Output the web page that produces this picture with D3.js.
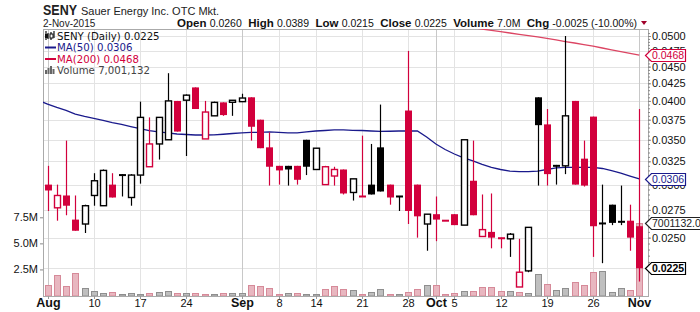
<!DOCTYPE html>
<html>
<head>
<meta charset="utf-8">
<script src="https://cdn.jsdelivr.net/npm/d3@7"></script>
<style>
  body { margin: 0; background: #fff; }
  svg { display: block; font-family: "Liberation Sans", Arial, sans-serif; }
</style>
</head>
<body>
<svg id="chart" width="700" height="312"></svg>
<script>
// trading days shown on the chart
var dates = [
  "2015-08-03","2015-08-04","2015-08-05","2015-08-06","2015-08-07","2015-08-10","2015-08-11","2015-08-12","2015-08-13","2015-08-14",
  "2015-08-17","2015-08-18","2015-08-19","2015-08-20","2015-08-21","2015-08-24","2015-08-25","2015-08-26","2015-08-27","2015-08-28",
  "2015-08-31","2015-09-01","2015-09-02","2015-09-03","2015-09-04","2015-09-08","2015-09-09","2015-09-10","2015-09-11","2015-09-14",
  "2015-09-15","2015-09-16","2015-09-17","2015-09-18","2015-09-21","2015-09-22","2015-09-23","2015-09-24","2015-09-25","2015-09-28",
  "2015-09-29","2015-09-30","2015-10-01","2015-10-02","2015-10-05","2015-10-06","2015-10-07","2015-10-08","2015-10-09","2015-10-12",
  "2015-10-13","2015-10-14","2015-10-15","2015-10-16","2015-10-19","2015-10-20","2015-10-21","2015-10-22","2015-10-23","2015-10-26",
  "2015-10-27","2015-10-28","2015-10-29","2015-10-30","2015-11-02"];

var open = [0.0300,0.0277,0.0289,0.0266,0.0262,0.0289,0.0279,0.0300,0.0311,0.0287,
  0.0310,0.0319,0.0345,0.0350,0.0400,0.0401,0.0419,0.0351,0.0380,0.0398,
  0.0399,0.0399,0.0405,0.0375,0.0341,0.0320,0.0320,0.0320,0.0350,0.0316,
  0.0300,0.0309,0.0316,0.0292,0.0288,0.0300,0.0341,0.0300,0.0288,0.0387,
  0.0300,0.0262,0.0271,0.0265,0.0271,0.0261,0.0304,0.0251,0.0255,0.0250,
  0.0249,0.0211,0.0223,0.0405,0.0369,0.0320,0.0320,0.0400,0.0328,0.0379,
  0.0263,0.0280,0.0264,0.0265,0.0260];
var high = [0.0320,0.0300,0.0349,0.0289,0.0280,0.0312,0.0316,0.0312,0.0311,0.0311,
  0.0399,0.0378,0.0378,0.0440,0.0400,0.0409,0.0419,0.0400,0.0399,0.0398,
  0.0401,0.0410,0.0405,0.0375,0.0359,0.0320,0.0320,0.0320,0.0350,0.0340,
  0.0320,0.0319,0.0316,0.0306,0.0355,0.0345,0.0395,0.0300,0.0288,0.0475,
  0.0300,0.0271,0.0288,0.0265,0.0271,0.0350,0.0349,0.0290,0.0291,0.0250,
  0.0254,0.0249,0.0259,0.0405,0.0389,0.0321,0.0500,0.0400,0.0349,0.0379,
  0.0300,0.0280,0.0299,0.0280,0.0389];
var low = [0.0274,0.0265,0.0270,0.0256,0.0254,0.0279,0.0279,0.0287,0.0288,0.0279,
  0.0301,0.0319,0.0327,0.0350,0.0360,0.0331,0.0389,0.0351,0.0380,0.0380,
  0.0380,0.0399,0.0349,0.0340,0.0299,0.0300,0.0299,0.0300,0.0310,0.0316,
  0.0300,0.0299,0.0290,0.0284,0.0288,0.0290,0.0293,0.0280,0.0274,0.0262,
  0.0250,0.0239,0.0247,0.0265,0.0261,0.0261,0.0270,0.0251,0.0241,0.0241,
  0.0234,0.0211,0.0222,0.0299,0.0299,0.0300,0.0311,0.0300,0.0298,0.0234,
  0.0229,0.0261,0.0261,0.0239,0.0215];
var close = [0.0294,0.0289,0.0279,0.0256,0.0279,0.0304,0.0315,0.0287,0.0309,0.0310,
  0.0378,0.0345,0.0378,0.0400,0.0360,0.0408,0.0389,0.0385,0.0398,0.0381,
  0.0400,0.0404,0.0366,0.0340,0.0319,0.0315,0.0316,0.0305,0.0319,0.0340,
  0.0319,0.0316,0.0291,0.0306,0.0288,0.0290,0.0293,0.0287,0.0288,0.0274,
  0.0269,0.0271,0.0266,0.0265,0.0261,0.0350,0.0270,0.0257,0.0250,0.0249,
  0.0253,0.0222,0.0259,0.0368,0.0311,0.0320,0.0380,0.0300,0.0299,0.0260,
  0.0262,0.0263,0.0264,0.0250,0.0225];
var volume = [980000,1940000,880000,2160000,690000,430000,200000,330000,120000,200000,
  120000,200000,300000,400000,200000,200000,200000,120000,120000,200000,
  200000,200000,980000,880000,690000,100000,200000,200000,100000,100000,
  620000,880000,600000,500000,100000,300000,600000,100000,100000,300000,
  600000,980000,980000,100000,200000,400000,400000,790000,790000,400000,
  400000,300000,200000,2030000,1070000,500000,690000,1270000,980000,2220000,
  2320000,300000,690000,500000,7001132];

// moving averages: MA(50) starts on the day before the first candle,
// MA(200) only where it comes down into the chart
var maStart = "2015-07-31";
var ma50 = [0.04006,0.03957,0.03911,0.03871,0.03824,0.03792,0.03766,0.03740,0.03712,0.03689,0.03663,
  0.03638,0.03613,0.03595,0.03583,0.03570,0.03564,0.03558,0.03558,0.03560,0.03567,
  0.03576,0.03583,0.03589,0.03589,0.03595,0.03589,0.03583,0.03583,0.03595,0.03607,
  0.03613,0.03620,0.03620,0.03616,0.03613,0.03607,0.03603,0.03604,0.03607,0.03607,
  0.03607,0.03534,0.03449,0.03385,0.03333,0.03288,0.03254,0.03215,0.03182,0.03160,
  0.03143,0.03136,0.03136,0.03143,0.03160,0.03178,0.03184,0.03184,0.03184,0.03182,
  0.03171,0.03149,0.03122,0.03090,0.03060];
var ma200 = [0.05145,0.05122,0.05099,0.05076,0.05052,0.05029,0.05007,0.04985,0.04959,0.04932,
  0.04906,0.04881,0.04854,0.04829,0.04798,0.04768,0.04739,0.04710,0.04681];

var priceTicks = [0.0500,0.0475,0.0450,0.0425,0.0400,0.0375,0.0350,0.0325,0.0300,0.0275,0.0250,0.0225];
var volumeTicks = [2500000, 5000000, 7500000];
var tickDates = ["2015-08-03","2015-08-10","2015-08-17","2015-08-24","2015-09-01","2015-09-08","2015-09-14",
  "2015-09-21","2015-09-28","2015-10-01","2015-10-05","2015-10-12","2015-10-19","2015-10-26","2015-11-02"];
var tickLabels = ["Aug","10","17","24","Sep","8","14","21","28","Oct","5","12","19","26","Nov"];

// layout
var plot = {left: 43, right: 648, top: 29, bottom: 296};
var RED = "#d2003c", BLUE = "#1a1a8c", MA200C = "#dc4563";

var svg = d3.select("#chart");

var allDates = [maStart].concat(dates);
var x = d3.scalePoint()
  .domain(allDates)
  .range([38.3, 639.3]);
var y = d3.scaleLog()
  .domain([0.0500, 0.0225])
  .range([36, 268.3]);
var yv = d3.scaleLinear()
  .domain([0, 7500000])
  .range([295.5, 217.3]);

function cx(d) { return Math.round(x(d)); }

svg.append("defs").append("clipPath").attr("id", "clip")
  .append("rect")
  .attr("x", plot.left).attr("y", plot.top)
  .attr("width", plot.right - plot.left).attr("height", plot.bottom - plot.top);

// grid
var grid = svg.append("g");
grid.selectAll(".hg")
  .data(priceTicks)
  .enter().append("line")
  .attr("x1", plot.left).attr("x2", plot.right)
  .attr("y1", function(d) { return Math.round(y(d)) + 0.5; })
  .attr("y2", function(d) { return Math.round(y(d)) + 0.5; })
  .attr("stroke", "#e3e3e3");
grid.selectAll(".vg")
  .data(tickDates)
  .enter().append("line")
  .attr("x1", function(d) { return cx(d) + 0.5; })
  .attr("x2", function(d) { return cx(d) + 0.5; })
  .attr("y1", plot.top).attr("y2", plot.bottom)
  .attr("stroke", function(d, i) { return isNaN(+tickLabels[i]) ? "#c8c8c8" : "#e3e3e3"; });

// frame
svg.append("rect")
  .attr("x", plot.left + 0.5).attr("y", plot.top + 0.5)
  .attr("width", plot.right - plot.left).attr("height", plot.bottom - plot.top)
  .attr("fill", "none").attr("stroke", "#aaa");

var body = svg.append("g").attr("clip-path", "url(#clip)");

function isDown(i) {
  return i == 0 ? close[i] < open[i] : close[i] < close[i - 1];
}

// volume bars
body.selectAll(".vol")
  .data(dates)
  .enter().append("rect")
  .attr("x", function(d) { return cx(d) - 2.5; })
  .attr("width", 6)
  .attr("y", function(d, i) { return Math.round(yv(volume[i])) + 0.5; })
  .attr("height", function(d, i) { return Math.max(0, 296 - Math.round(yv(volume[i])) - 0.5); })
  .attr("fill", function(d, i) { return isDown(i) ? "#e8b7c0" : "#bfbfbf"; })
  .attr("stroke", function(d, i) { return isDown(i) ? "#d68a99" : "#8f8f8f"; })
  .attr("stroke-width", 1);

// moving averages
var maLine = d3.line()
  .x(function(d) { return x(d[0]); })
  .y(function(d) { return y(d[1]); });
body.append("path")
  .datum(d3.zip(allDates, ma50))
  .attr("d", maLine)
  .attr("fill", "none").attr("stroke", BLUE).attr("stroke-width", 1.3);
body.append("path")
  .datum(d3.zip(dates.slice(dates.length - ma200.length), ma200))
  .attr("d", maLine)
  .attr("fill", "none").attr("stroke", MA200C).attr("stroke-width", 1.3);

// candles
var candles = body.selectAll(".candle")
  .data(dates)
  .enter().append("g");
candles.append("line")
  .attr("x1", function(d) { return cx(d) + 0.5; })
  .attr("x2", function(d) { return cx(d) + 0.5; })
  .attr("y1", function(d, i) { return y(high[i]); })
  .attr("y2", function(d, i) { return y(low[i]); })
  .attr("stroke", function(d, i) { return isDown(i) ? RED : "#000"; })
  .attr("stroke-width", 1.2);
candles.append("rect")
  .attr("x", function(d, i) { return close[i] > open[i] ? cx(d) - 2.5 : cx(d) - 3; })
  .attr("width", function(d, i) { return close[i] > open[i] ? 6 : 7; })
  .attr("y", function(d, i) {
    var t = y(Math.max(open[i], close[i])), b = y(Math.min(open[i], close[i]));
    return b - t < 2 ? (t + b) / 2 - 1 : t;
  })
  .attr("height", function(d, i) {
    var h = y(Math.min(open[i], close[i])) - y(Math.max(open[i], close[i]));
    return Math.max(h, 2);
  })
  .attr("fill", function(d, i) {
    if (close[i] > open[i]) return "#fff";
    return isDown(i) ? RED : "#000";
  })
  .attr("stroke", function(d, i) {
    if (close[i] > open[i]) return isDown(i) ? RED : "#000";
    return "none";
  })
  .attr("stroke-width", 1.4);

// right price axis (the lowest label sits under the close tag, so it is left blank)
var rAxis = svg.append("g")
  .attr("transform", "translate(" + plot.right + ",0)")
  .call(d3.axisRight(y).tickValues(priceTicks)
    .tickFormat(function(d) { return d < 0.0226 ? "" : d3.format(".4f")(d); })
    .tickSize(3).tickPadding(1));
svg.append("g")
  .attr("transform", "translate(" + plot.right + ",0)")
  .call(d3.axisRight(y).tickValues(d3.range(0.0225, 0.0507, 0.0005)).tickFormat("").tickSize(2))
  .call(function(g) { g.select(".domain").remove(); });
svg.selectAll(".tick line").attr("stroke", "#888");
rAxis.select(".domain").attr("stroke", "#aaa");
rAxis.selectAll("text").attr("font-size", 11).attr("fill", "#111")
  .attr("font-family", "Liberation Sans, Arial, sans-serif");

// left volume axis
var lAxis = svg.append("g")
  .attr("transform", "translate(" + plot.left + ",0)")
  .call(d3.axisLeft(yv).tickValues(volumeTicks)
    .tickFormat(function(d) { return (d / 1e6).toFixed(1) + "M"; }).tickSize(3).tickPadding(2));
lAxis.select(".domain").remove();
lAxis.selectAll("line").attr("stroke", "#888");
lAxis.selectAll("text").attr("font-size", 11).attr("fill", "#111")
  .attr("font-family", "Liberation Sans, Arial, sans-serif");

// date labels
var xl = svg.append("g");
xl.selectAll("line")
  .data(tickDates)
  .enter().append("line")
  .attr("x1", function(d) { return cx(d) + 0.5; })
  .attr("x2", function(d) { return cx(d) + 0.5; })
  .attr("y1", plot.bottom).attr("y2", plot.bottom + 3)
  .attr("stroke", "#999");
xl.selectAll("text")
  .data(tickDates)
  .enter().append("text")
  .attr("x", function(d) { return cx(d) + 0.5; })
  .attr("y", 307)
  .attr("text-anchor", "middle")
  .attr("font-size", function(d, i) { return isNaN(+tickLabels[i]) ? 12.5 : 11; })
  .attr("font-weight", function(d, i) { return isNaN(+tickLabels[i]) ? "bold" : "normal"; })
  .attr("fill", "#111")
  .text(function(d, i) { return tickLabels[i]; });

// value tags on the right axis (box grows with its text)
function tag(yy, label, color, bold) {
  var g = svg.append("g").attr("transform", "translate(0," + Math.round(yy) + ")");
  var p = g.append("path").attr("fill", "#fff").attr("stroke", color).attr("stroke-width", 1.2);
  var t = g.append("text")
    .attr("x", 652).attr("y", 4)
    .attr("font-size", 10.5)
    .attr("font-weight", bold ? "bold" : "normal")
    .attr("fill", color)
    .text(label);
  var r = Math.round(653 + t.node().getComputedTextLength()) + 0.5;
  p.attr("d", "M645.5,0.5 L651.5,-5.5 L" + r + ",-5.5 L" + r + ",6.5 L651.5,6.5 Z");
}
var n = dates.length - 1;
tag(y(ma200[ma200.length - 1]), ma200[ma200.length - 1].toFixed(4), RED, false);
tag(y(ma50[ma50.length - 1]), ma50[ma50.length - 1].toFixed(4), BLUE, false);
tag(yv(volume[n]), volume[n].toFixed(1), "#222", false);
tag(y(close[n]), close[n].toFixed(4), "#000", true);

// header
svg.append("text").attr("x", 43).attr("y", 15)
  .attr("font-size", 14).attr("font-weight", "bold").attr("fill", "#222")
  .attr("textLength", 34).attr("lengthAdjust", "spacingAndGlyphs").text("SENY");
svg.append("text").attr("x", 81).attr("y", 15)
  .attr("font-size", 11).attr("fill", "#222").text("Sauer Energy Inc. OTC Mkt.");
svg.append("text").attr("x", 43).attr("y", 27)
  .attr("font-size", 10).attr("fill", "#222").text("2-Nov-2015");

var chg = close[n] - close[n - 1];
var stats = [["Open", open[n].toFixed(4)], ["High", high[n].toFixed(4)], ["Low", low[n].toFixed(4)],
  ["Close", close[n].toFixed(4)], ["Volume", (volume[n] / 1e6).toFixed(1) + "M"],
  ["Chg", chg.toFixed(4) + " (" + (chg / close[n - 1] * 100).toFixed(2) + "%)"]];
var st = svg.append("text").attr("x", 637).attr("y", 27).attr("text-anchor", "end").attr("fill", "#111")
  .attr("xml:space", "preserve");
stats.forEach(function(s, i) {
  st.append("tspan").attr("font-size", 11.5).attr("font-weight", "bold").text((i ? "  " : "") + s[0] + " ");
  st.append("tspan").attr("font-size", 10.5).text(s[1]);
});
svg.append("path").attr("d", "M641,21 L647,21 L644,25 Z").attr("fill", "#a0002a");

// legend
var lg = svg.append("g").attr("font-family", "DejaVu Sans, Verdana, sans-serif").attr("font-size", 10.2);
var legendRows = [
  ["SENY (Daily) " + close[n].toFixed(4), "#111"],
  ["MA(50) " + ma50[ma50.length - 1].toFixed(4), BLUE],
  ["MA(200) " + ma200[ma200.length - 1].toFixed(4), RED],
  ["Volume " + d3.format(",")(volume[n]), "#444"]];
lg.selectAll("text")
  .data(legendRows)
  .enter().append("text")
  .attr("x", 57)
  .attr("y", function(d, i) { return [39.5, 51, 62.5, 74][i]; })
  .attr("fill", function(d) { return d[1]; })
  .text(function(d) { return d[0]; });
// legend icons
lg.append("path").attr("d", "M46,31v9 M48,33v6 M51,32v8 M54,31v7").attr("stroke", "#111").attr("stroke-width", 1.2);
lg.append("rect").attr("x", 45).attr("y", 34).attr("width", 3).attr("height", 4).attr("fill", "#111");
lg.append("rect").attr("x", 50).attr("y", 34).attr("width", 3).attr("height", 4).attr("fill", "#fff").attr("stroke", "#111");
lg.append("line").attr("x1", 45).attr("x2", 56).attr("y1", 47.5).attr("y2", 47.5).attr("stroke", BLUE).attr("stroke-width", 2);
lg.append("line").attr("x1", 45).attr("x2", 56).attr("y1", 59).attr("y2", 59).attr("stroke", RED).attr("stroke-width", 2);
lg.selectAll(".vi")
  .data([4, 6, 8, 5])
  .enter().append("rect")
  .attr("x", function(d, i) { return 45 + i * 2.5; })
  .attr("y", function(d) { return 74 - d; })
  .attr("width", 2).attr("height", function(d) { return d; })
  .attr("fill", "#666");
</script>
</body>
</html>
